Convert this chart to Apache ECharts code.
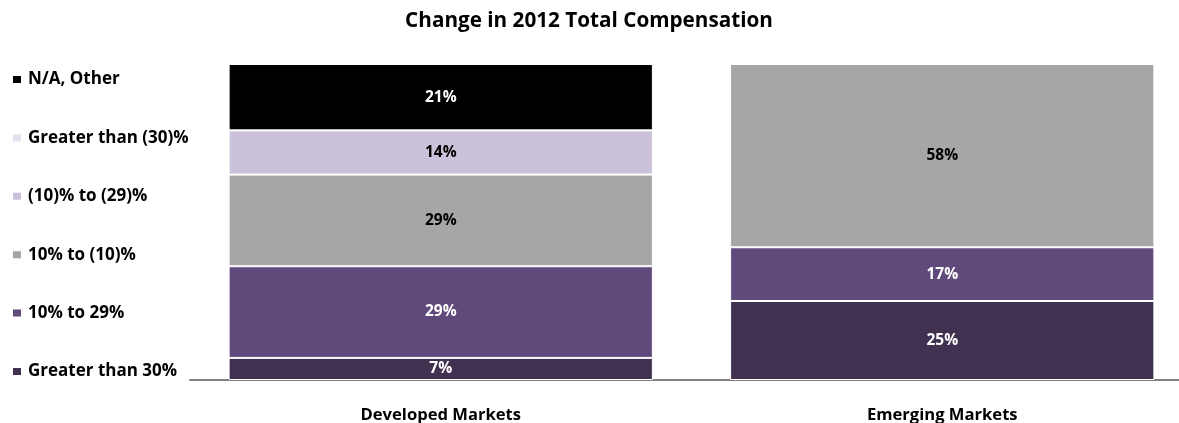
<!DOCTYPE html>
<html>
<head>
<meta charset="utf-8">
<script src="https://cdn.jsdelivr.net/npm/echarts@6/dist/echarts.min.js"></script>
<style>
  html, body { margin: 0; padding: 0; background: #ffffff; }
  #chart { width: 1179px; height: 423px; }
</style>
</head>
<body>
<div id="chart"></div>
<script>
// Markets on the category axis
const markets = ['Developed Markets', 'Emerging Markets'];

// Share of respondents (%) per change bucket, bottom of stack first
const greaterThan30 = [7, 25];
const tenTo29 = [29, 17];
const tenToNeg10 = [29, 58];
const neg10ToNeg29 = [14, 0];
const greaterThanNeg30 = [0, 0];
const naOther = [21, 0];

const seriesNames = ['Greater than 30%', '10% to 29%', '10% to (10)%', '(10)% to (29)%', 'Greater than (30)%', 'N/A, Other'];
const seriesValues = [greaterThan30, tenTo29, tenToNeg10, neg10ToNeg29, greaterThanNeg30, naOther];
const seriesColors = ['#403151', '#604a7b', '#a6a6a6', '#ccc1da', '#e6e0ec', '#000000'];
const labelColors = ['#ffffff', '#ffffff', '#000000', '#000000', '#000000', '#ffffff'];

const FONT = '"Open Sans"';

const chart = echarts.init(document.getElementById('chart'));

chart.setOption({
  backgroundColor: '#ffffff',
  animation: false,
  title: {
    text: 'Change in 2012 Total Compensation',
    left: 584,
    textAlign: 'center',
    top: 6,
    textStyle: { fontFamily: FONT, fontSize: 20.7, fontWeight: 'bold', color: '#000000' }
  },
  legend: {
    orient: 'vertical',
    left: 6,
    top: 66,
    itemWidth: 10,
    itemHeight: 9,
    itemGap: 41.4,
    icon: 'rect',
    data: seriesNames.slice().reverse(),
    textStyle: { fontFamily: FONT, fontSize: 17, fontWeight: 'bold', color: '#000000', padding: [0, 0, 0, 1] }
  },
  // plot area runs past the right edge so the axis line reaches the border
  grid: { left: 190, width: 1003, top: 64, bottom: 43, outerBoundsMode: 'none' },
  xAxis: {
    type: 'category',
    data: markets,
    axisLine: { lineStyle: { color: '#808080', width: 2 } },
    axisTick: { show: false },
    axisLabel: { fontFamily: FONT, fontSize: 16.6, fontWeight: 'bold', color: '#000000', margin: 27 }
  },
  yAxis: {
    type: 'value',
    min: 0,
    max: 100,
    interval: 20,
    show: false,
    splitLine: { show: false }
  },
  series: seriesNames.map((name, i) => ({
    name: name,
    type: 'bar',
    stack: 'total',
    barWidth: '84.6%',
    data: seriesValues[i],
    itemStyle: { color: seriesColors[i], borderColor: '#ffffff', borderWidth: 1 },
    label: {
      show: true,
      position: 'inside',
      fontFamily: FONT,
      fontSize: 15.5,
      fontWeight: 'bold',
      color: labelColors[i],
      formatter: p => (p.value > 0 ? p.value + '%' : '')
    }
  }))
});
</script>
</body>
</html>
